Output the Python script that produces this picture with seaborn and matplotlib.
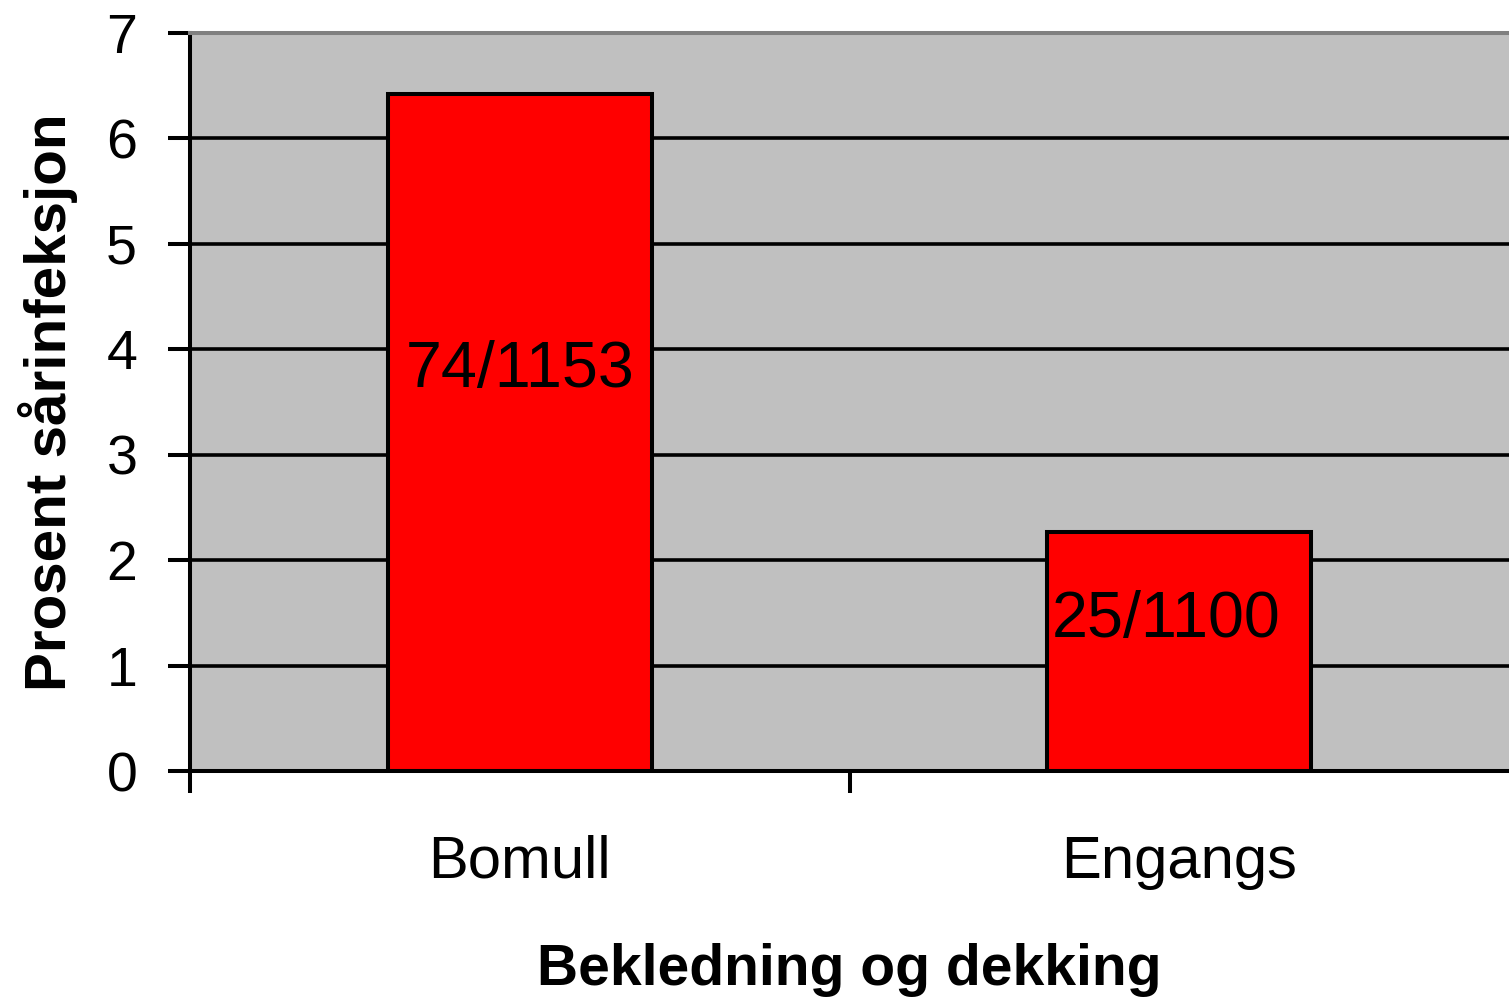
import pandas as pd
import matplotlib
matplotlib.use("Agg")
import matplotlib.pyplot as plt
import seaborn as sns

# data
categories = ["Bomull", "Engangs"]
infection_pct = [6.42, 2.27]
count_labels = ["74/1153", "25/1100"]
label_y = [3.80, 1.43]
y_ticks = [0, 1, 2, 3, 4, 5, 6, 7]

df = pd.DataFrame({"Bekledning": categories, "Prosent": infection_pct})

sns.set_style("white")
plt.rcParams["font.family"] = ["Liberation Sans", "DejaVu Sans"]
plt.rcParams["text.color"] = "black"
plt.rcParams["axes.labelcolor"] = "black"
plt.rcParams["xtick.color"] = "black"
plt.rcParams["ytick.color"] = "black"

fig = plt.figure(figsize=(15.09, 9.98), dpi=100)
ax = fig.add_axes([190 / 1509, 1 - 771 / 998, 1 - 190 / 1509, (771 - 33) / 998])
ax.set_facecolor("#c0c0c0")

# horizontal grid lines behind bars
for yv in y_ticks[1:-1]:
    ax.axhline(yv, color="black", linewidth=2.6, zorder=0.5)

sns.barplot(data=df, x="Bekledning", y="Prosent", color="#ff0000", width=0.4,
            edgecolor="black", linewidth=2.9, saturation=1, ax=ax, zorder=2)

# the second label sits a little left of its bar centre in the original
for i, txt in enumerate(count_labels):
    dx = 0.0 if i == 0 else -0.02
    ax.text(i + dx, label_y[i], txt, ha="center", va="center", fontsize=46.5,
            color="black", zorder=3)

ax.set_xlim(-0.5, 1.5)
ax.set_ylim(0, 7)
ax.set_yticks(y_ticks)
ax.set_yticklabels([str(v) for v in y_ticks], fontsize=40)
ax.tick_params(axis="y", direction="out", length=16, width=2.9, pad=22,
               left=True, colors="black")

# category boundary ticks as major, labels on minor
ax.set_xticks([-0.5, 0.5])
ax.set_xticklabels(["", ""])
ax.set_xticks([0, 1], minor=True)
ax.set_xticklabels(categories, minor=True, fontsize=43)
ax.tick_params(axis="x", which="major", direction="out", length=16, width=2.9,
               bottom=True, colors="black")
ax.tick_params(axis="x", which="minor", length=0, pad=46, colors="black")

for side in ["left", "bottom"]:
    ax.spines[side].set_color("black")
    ax.spines[side].set_linewidth(2.9)
ax.spines["top"].set_color("#808080")
ax.spines["top"].set_linewidth(2.9)
ax.spines["right"].set_visible(False)

ax.set_xlabel("Bekledning og dekking", fontsize=41, fontweight="bold",
              labelpad=38, color="black")
ax.set_ylabel("Prosent sårinfeksjon", fontsize=42, fontweight="bold",
              labelpad=20, color="black")

fig.savefig("out.png", dpi=100)
